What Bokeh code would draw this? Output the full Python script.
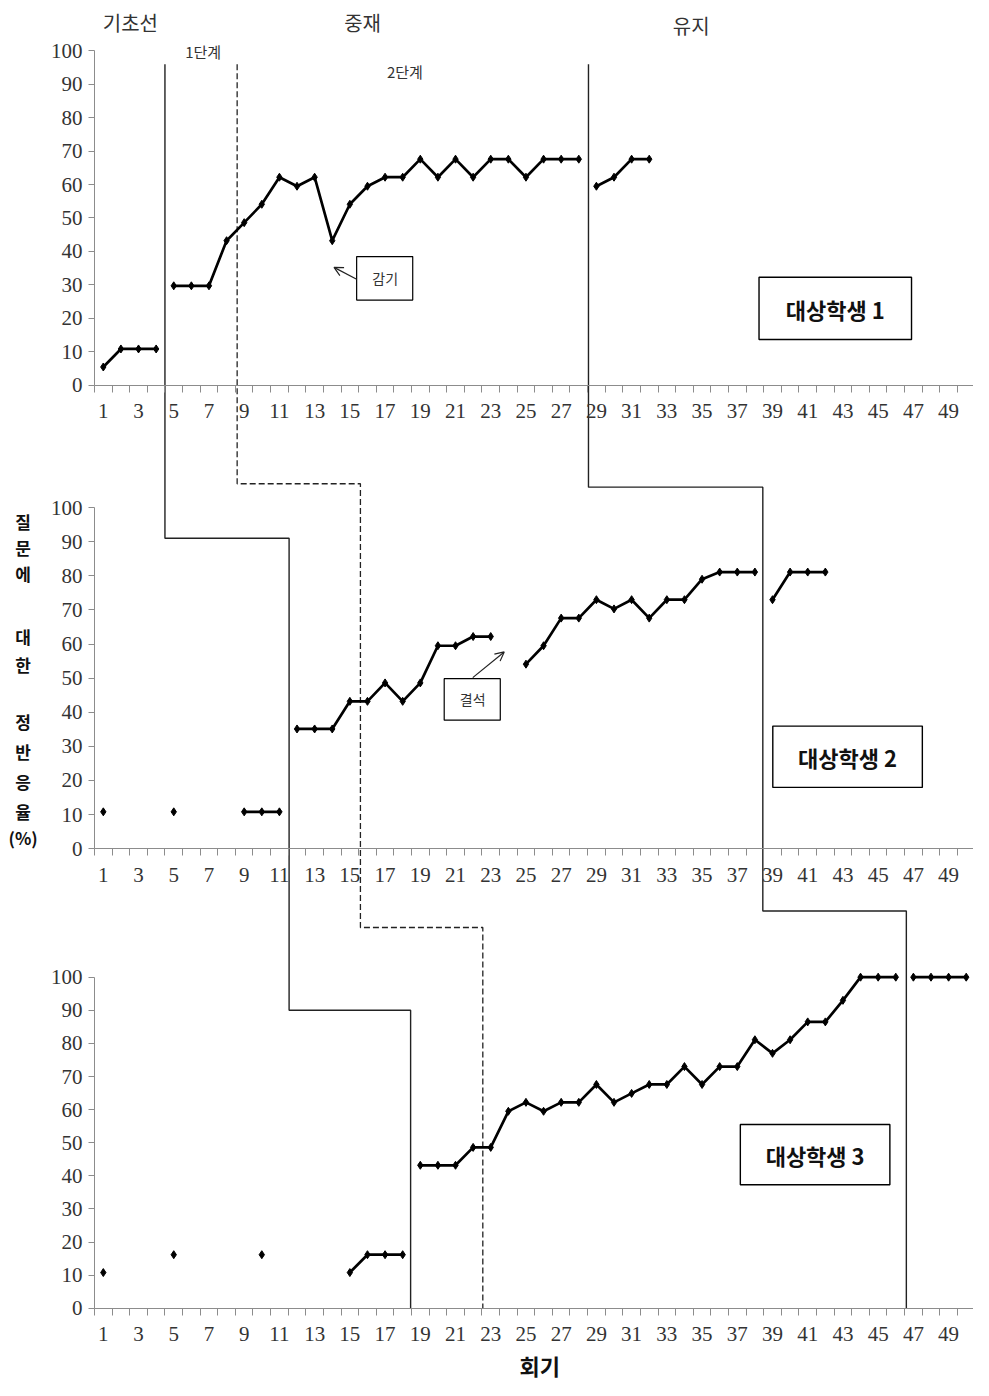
import numpy as np
from bokeh.plotting import figure
from bokeh.models import Range1d, LinearAxis, FixedTicker, Arrow, OpenHead
from bokeh.embed import file_html
from bokeh.resources import INLINE
from bokeh.core.properties import value

# ---------------- data ----------------
sessions1 = list(range(1, 33))
values1 = [5.4, 10.8, 10.8, 10.8, 29.7, 29.7, 29.7, 43.2, 48.6, 54.1, 62.2, 59.5,
           62.2, 43.2, 54.1, 59.5, 62.2, 62.2, 67.6, 62.2, 67.6, 62.2, 67.6, 67.6,
           62.2, 67.6, 67.6, 67.6, 59.5, 62.2, 67.6, 67.6]

sessions2 = list(range(1, 43))
values2 = [10.8, None, None, None, 10.8, None, None, None, 10.8, 10.8, 10.8, 35.1,
           35.1, 35.1, 43.2, 43.2, 48.6, 43.2, 48.6, 59.5, 59.5, 62.2, 62.2, None,
           54.1, 59.5, 67.6, 67.6, 73.0, 70.3, 73.0, 67.6, 73.0, 73.0, 79.0, 81.1,
           81.1, 81.1, 73.0, 81.1, 81.1, 81.1]

sessions3 = list(range(1, 51))
values3 = [10.8, None, None, None, 16.2, None, None, None, None, 16.2, None, None,
           None, None, 10.8, 16.2, 16.2, 16.2, 43.2, 43.2, 43.2, 48.6, 48.6, 59.5,
           62.2, 59.5, 62.2, 62.2, 67.6, 62.2, 64.9, 67.6, 67.6, 73.0, 67.6, 73.0,
           73.0, 81.1, 77.0, 81.1, 86.5, 86.5, 93.0, 100, 100, 100, 100, 100, 100, 100]

# phase changes (session positions) per student: [intervention start, maintenance start]
phase_solid = [[4.5, 28.55], [11.55, 38.45], [18.45, 46.6]]
phase_dashed = [8.6, 15.6, 22.55]       # 1단계 -> 2단계
# levels of the multiple-baseline staircase (in each panel's % units)
stair_top = 96
stair_lvl2 = [91, 107, 106]
stair_lvl3 = [90, 115, 120]

y_ticks = list(range(0, 101, 10))
x_labels = list(range(1, 50, 2))
x_minor = [i + 0.5 for i in range(0, 51)]

phase_names = ["기초선", "중재", "유지"]
step_names = ["1단계", "2단계"]
student_names = ["대상학생 1", "대상학생 2", "대상학생 3"]
notes = ["감기", "결석"]
y_label_chars = ["질", "문", "에", "대", "한", "정", "반", "응", "율", "(%)"]
x_title = "회기"

# ---------------- layout ----------------
W, H = 973, 1380
REF_W, REF_H = 989, 1396
X0, DX = 104.5, 17.9
bases = [389, 858, 1323]
scales = [3.38, 3.45, 3.35]

KR = value("Noto Sans CJK KR")
NUM = "Liberation Serif"

p = figure(width=W, height=H,
           x_range=Range1d(1 + (0 - X0) / DX, 1 + (REF_W - X0) / DX),
           y_range=Range1d(REF_H, 0),
           x_axis_type=None, y_axis_type=None,
           output_backend="svg", toolbar_location=None, min_border=0)
p.outline_line_color = None
p.background_fill_color = "white"
p.extra_x_ranges = {"px": Range1d(0, REF_W)}
for k in range(3):
    p.extra_y_ranges[f"p{k}"] = Range1d((bases[k] - REF_H) / scales[k], bases[k] / scales[k])


def ref_y(k, v):
    return bases[k] - v * scales[k]


# axes
for k in range(3):
    yax = LinearAxis(y_range_name=f"p{k}", fixed_location=0.5, bounds=(0, 100),
                     ticker=FixedTicker(ticks=y_ticks, minor_ticks=[]))
    yax.axis_line_color = "#8c8c8c"
    yax.major_tick_line_color = "#8c8c8c"
    yax.major_tick_out = 6
    yax.major_tick_in = 0
    yax.minor_tick_line_color = None
    yax.major_label_text_font = NUM
    yax.major_label_text_font_size = "21px"
    yax.major_label_text_color = "#333333"
    yax.major_label_standoff = 6
    p.add_layout(yax, "left")

    xax = LinearAxis(y_range_name=f"p{k}", fixed_location=0, bounds=(0.5, 50.5),
                     ticker=FixedTicker(ticks=x_labels, minor_ticks=x_minor))
    xax.axis_line_color = "#8c8c8c"
    xax.major_tick_line_color = None
    xax.major_tick_out = 0
    xax.major_tick_in = 0
    xax.minor_tick_line_color = "#8c8c8c"
    xax.minor_tick_out = 7
    xax.minor_tick_in = 0
    xax.major_label_text_font = NUM
    xax.major_label_text_font_size = "21px"
    xax.major_label_text_color = "#333333"
    xax.major_label_standoff = 12
    p.add_layout(xax, "below")

# staircase phase lines (multiple-baseline design)
for j in range(2):
    b1, b2, b3 = phase_solid[0][j], phase_solid[1][j], phase_solid[2][j]
    lvl_idx = 0 if j == 0 else 2
    xs = [b1, b1, b2, b2, b3, b3]
    ys = [ref_y(0, stair_top), ref_y(1, stair_lvl2[lvl_idx]), ref_y(1, stair_lvl2[lvl_idx]),
          ref_y(2, stair_lvl3[lvl_idx]), ref_y(2, stair_lvl3[lvl_idx]), ref_y(2, 0)]
    p.line(xs, ys, line_color="#222222", line_width=1.4)
d1, d2, d3 = phase_dashed
xs = [d1, d1, d2, d2, d3, d3]
ys = [ref_y(0, stair_top), ref_y(1, stair_lvl2[1]), ref_y(1, stair_lvl2[1]),
      ref_y(2, stair_lvl3[1]), ref_y(2, stair_lvl3[1]), ref_y(2, 0)]
p.line(xs, ys, line_color="#222222", line_width=1.3, line_dash="6 3")


# data series
def build(sess, vals, breaks):
    xs, ys = [], []
    prev = None
    for s, v in zip(sess, vals):
        if prev is not None and any(prev < b < s for b in breaks):
            xs.append(np.nan)
            ys.append(np.nan)
        xs.append(s)
        ys.append(np.nan if v is None else v)
        prev = s
    return xs, ys


for k, (sess, vals) in enumerate([(sessions1, values1), (sessions2, values2), (sessions3, values3)]):
    lx, ly = build(sess, vals, phase_solid[k])
    p.line(lx, ly, y_range_name=f"p{k}", line_color="black", line_width=2.7)
    mx = [s for s, v in zip(sess, vals) if v is not None]
    my = [v for v in vals if v is not None]
    p.scatter(mx, my, y_range_name=f"p{k}", marker="diamond", size=8,
              fill_color="black", line_color="black")

# phase titles
p.text(x=[132, 368, 702], y=[22, 22, 25], text=phase_names, x_range_name="px",
       text_font=KR, text_font_size="20px", text_align="center", text_baseline="middle",
       text_color="#333333")
p.text(x=[206, 411], y=[52, 72], text=step_names, x_range_name="px",
       text_font=KR, text_font_size="15px", text_align="center", text_baseline="middle",
       text_color="#333333")

# note boxes
p.quad(left=[362, 451], right=[419, 508], top=[259, 686], bottom=[303, 728], x_range_name="px",
       fill_color="white", line_color="black", line_width=1.2)
p.text(x=[391, 480], y=[281, 707], text=notes, x_range_name="px",
       text_font=KR, text_font_size="14px", text_align="center", text_baseline="middle",
       text_color="#333333")
p.add_layout(Arrow(x_range_name="px", x_start=362, y_start=282, x_end=339, y_end=270,
                   end=OpenHead(size=9, line_width=1.2, line_color="#222222"),
                   line_width=1.2, line_color="#222222"))
p.add_layout(Arrow(x_range_name="px", x_start=480, y_start=685, x_end=512, y_end=659,
                   end=OpenHead(size=9, line_width=1.2, line_color="#222222"),
                   line_width=1.2, line_color="#222222"))

# student boxes
p.quad(left=[771, 785, 752], right=[926, 937, 904], top=[280, 734, 1137],
       bottom=[343, 796, 1198], x_range_name="px",
       fill_color="white", line_color="black", line_width=1.4)
p.text(x=[848.5, 861, 828], y=[312, 765, 1168], text=student_names, x_range_name="px",
       text_font=KR, text_font_size="22px", text_font_style="bold", text_align="center",
       text_baseline="middle", text_color="#111111")

# y-axis title (stacked characters) and x title
y_pos = [527, 553, 580, 643, 672, 729, 760, 790, 820, 847]
p.text(x=[23] * len(y_label_chars), y=y_pos, text=y_label_chars, x_range_name="px",
       text_font=KR, text_font_size="17px", text_font_style="bold", text_align="center",
       text_baseline="middle", text_color="#111111")
p.text(x=[548], y=[1380], text=[x_title], x_range_name="px",
       text_font=KR, text_font_size="22px", text_font_style="bold", text_align="center",
       text_baseline="middle", text_color="#111111")

open("out.html", "w").write(file_html(p, INLINE))
